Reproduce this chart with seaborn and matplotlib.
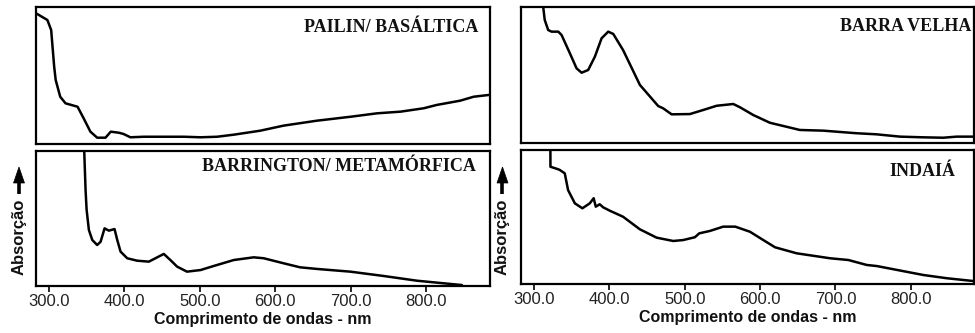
import matplotlib
matplotlib.use("Agg")
import matplotlib.pyplot as plt
import seaborn as sns
import pandas as pd
from matplotlib.ticker import FormatStrFormatter
from matplotlib.lines import Line2D
from matplotlib.patches import Polygon

# ---------------- data (arbitrary absorbance units) -------------
pailin_nm = [283, 298, 303, 307, 309, 315, 322, 338, 346, 355, 364, 375, 382, 393, 399, 408,
             426, 479, 501, 523, 545, 580, 611, 655, 700, 735, 766, 797, 814, 845, 863, 883]
pailin_abs = [0.954, 0.905, 0.832, 0.564, 0.467, 0.345, 0.297, 0.272, 0.188, 0.090, 0.046,
              0.046, 0.090, 0.082, 0.073, 0.049, 0.053, 0.053, 0.049, 0.053, 0.068, 0.097,
              0.134, 0.170, 0.199, 0.224, 0.236, 0.261, 0.285, 0.316, 0.345, 0.358]

barr_nm = [346.5, 348.6, 350, 353, 357.5, 364, 368.5, 373.8, 379.5, 387, 390.6, 395, 403.8,
           417, 432.5, 443.6, 452.3, 461, 470, 483, 501, 518.5, 545, 571.5, 584.8, 611, 633,
           655.5, 699.6, 743.7, 788, 847.5]
barr_abs = [1.05, 0.710, 0.562, 0.414, 0.340, 0.303, 0.327, 0.426, 0.409, 0.421, 0.340, 0.254,
            0.205, 0.187, 0.180, 0.212, 0.237, 0.192, 0.143, 0.106, 0.118, 0.148, 0.192, 0.212,
            0.205, 0.168, 0.138, 0.126, 0.106, 0.074, 0.039, 0.007]

velha_nm = [311, 314, 318.6, 323, 332, 336.4, 347.4, 356.3, 363, 371.7, 380.6, 389.5, 398.3,
            405, 418, 440.4, 464.7, 471.3, 482.5, 506.8, 524.5, 542.3, 564.4, 573.2, 590.9,
            613, 652.8, 683.8, 728, 754.7, 785.7, 816.6, 843.2, 860.9, 883]
velha_abs = [1.05, 0.907, 0.833, 0.821, 0.821, 0.796, 0.662, 0.551, 0.519, 0.539, 0.637, 0.772,
             0.821, 0.804, 0.686, 0.429, 0.274, 0.257, 0.213, 0.215, 0.245, 0.276, 0.289,
             0.265, 0.208, 0.151, 0.098, 0.093, 0.074, 0.066, 0.049, 0.044, 0.041, 0.049, 0.049]

indaia_nm = [321.5, 321.6, 332, 334, 340.6, 345, 354, 364, 373.8, 379, 381.8, 387, 391.6, 400.4,
             418, 440.4, 462.5, 484.6, 497.9, 513.4, 519.2, 533.4, 551, 567, 586.5, 604.2,
             619.8, 648.6, 692.9, 717.2, 741.6, 754.9, 816.9, 847.9, 883.3]
indaia_abs = [1.05, 0.875, 0.856, 0.851, 0.826, 0.701, 0.602, 0.565, 0.602, 0.640, 0.577, 0.595,
              0.572, 0.547, 0.502, 0.408, 0.346, 0.321, 0.328, 0.349, 0.378, 0.396, 0.428,
              0.428, 0.390, 0.328, 0.274, 0.229, 0.192, 0.179, 0.142, 0.134, 0.067, 0.043, 0.022]

titles = ["PAILIN/ BASÁLTICA", "BARRA VELHA", "BARRINGTON/ METAMÓRFICA", "INDAIÁ"]
xticks = [300.0, 400.0, 500.0, 600.0, 700.0, 800.0]
xlabel = "Comprimento de ondas - nm"
ylabel = "Absorção"

# ---------------- figure -------------
sns.set_style("white")
plt.rcParams["font.family"] = ["Liberation Sans", "DejaVu Sans"]

fig = plt.figure(figsize=(9.75, 3.33), dpi=100)
W, H = 975, 333

def ax_at(x0, x1, y0, y1):
    return fig.add_axes([x0 / W, 1 - y1 / H, (x1 - x0) / W, (y1 - y0) / H])

ax_tl = ax_at(35.7, 489.5, 7.0, 144.0)
ax_bl = ax_at(35.7, 489.5, 150.7, 286.0)
ax_tr = ax_at(521.0, 974.0, 7.3, 143.3)
ax_br = ax_at(521.0, 974.0, 150.0, 284.0)

panels = [
    (ax_tl, pailin_nm, pailin_abs, titles[0], (0.976, 0.82)),
    (ax_tr, velha_nm, velha_abs, titles[1], (0.995, 0.828)),
    (ax_bl, barr_nm, barr_abs, titles[2], (0.969, 0.85)),
    (ax_br, indaia_nm, indaia_abs, titles[3], (0.958, 0.806)),
]

for ax, nm, ab, title, (tx, ty) in panels:
    df = pd.DataFrame({"nm": nm, "abs": ab})
    sns.lineplot(data=df, x="nm", y="abs", ax=ax, sort=False, color="black",
                 linewidth=1.8, estimator=None)
    ax.set_xlim(282.5, 884)
    ax.set_ylim(0, 1)
    ax.set_yticks([])
    ax.set_xlabel("")
    ax.set_ylabel("")
    for s in ax.spines.values():
        s.set_visible(True)
        s.set_color("black")
        s.set_linewidth(1.6)
    ax.text(tx, ty, title, transform=ax.transAxes, ha="right", va="baseline",
            fontsize=13, fontweight="bold", family=["Liberation Serif", "DejaVu Serif"],
            color="#111111")

for ax in (ax_tl, ax_tr):
    ax.set_xticks([])

for ax in (ax_bl, ax_br):
    ax.set_xticks(xticks)
    ax.xaxis.set_major_formatter(FormatStrFormatter("%.1f"))
    ax.tick_params(axis="x", direction="out", length=4, width=1.2, color="black",
                   labelsize=12, pad=2, bottom=True, labelcolor="#222222")
    ax.set_xlabel(xlabel, fontsize=11.5, fontweight="bold", labelpad=2, color="#111111")

# y labels with arrows
def fx(px):
    return px / W

def fy(py):
    return 1 - py / H

for xc in (19.0, 502.5):
    fig.text(fx(xc), fy(237), ylabel, rotation=90, ha="center", va="center",
             fontsize=12, fontweight="bold", color="#111111")
    fig.add_artist(Line2D([fx(xc), fx(xc)], [fy(194), fy(181)], transform=fig.transFigure,
                          color="black", linewidth=2.6, solid_capstyle="butt"))
    fig.add_artist(Polygon([[fx(xc - 5.5), fy(183)], [fx(xc + 5.5), fy(183)], [fx(xc), fy(167)]],
                           closed=True, transform=fig.transFigure, facecolor="black",
                           edgecolor="black", linewidth=0.5))

fig.savefig("out.png", dpi=100)
